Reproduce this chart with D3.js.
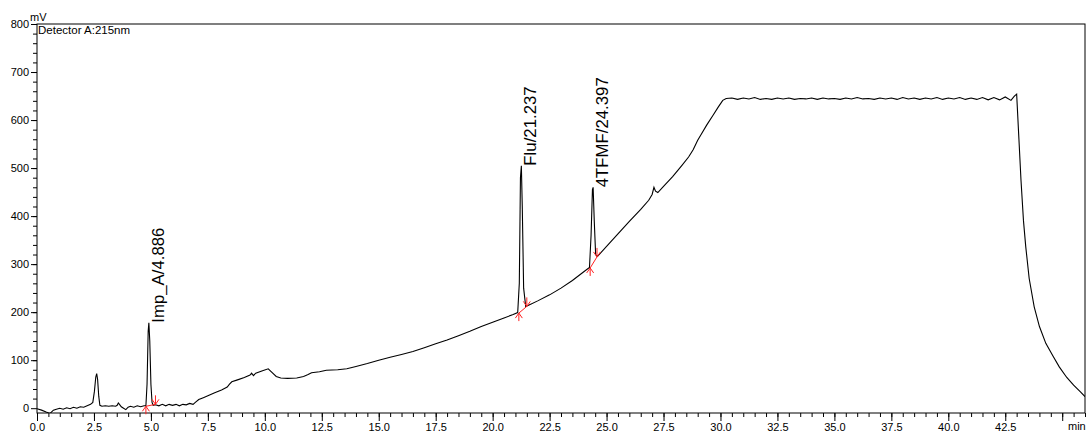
<!DOCTYPE html>
<html lang="en">
  <head>
    <meta charset="utf-8">
    <title>Chromatogram</title>
    <script src="https://d3js.org/d3.v7.min.js"></script>
    <style>
      body { margin: 0; background: #fff; }
      text { font-family: Arial, "Liberation Sans", sans-serif; }
    </style>
  </head>
  <body>
    <div id="chart"></div>
    <script>
      // retention time (min) and detector signal (mV)
      let times = [0, 0.2, 0.4, 0.57, 0.72, 0.85, 1.0, 1.15, 1.3, 1.45, 1.6, 1.75, 1.9, 2.05, 2.2, 2.35,
        2.45, 2.52, 2.58, 2.62, 2.66, 2.71, 2.76, 2.85,
        3.0, 3.15, 3.3, 3.45, 3.52, 3.57, 3.62, 3.7, 3.8, 3.9, 4.0, 4.1, 4.25, 4.4, 4.55, 4.7, 4.78,
        4.83, 4.88, 4.91, 4.95, 5.0, 5.05, 5.1, 5.2,
        5.35, 5.5, 5.65, 5.8, 5.95, 6.1, 6.25, 6.4, 6.55, 6.7, 6.85, 6.95, 7.1, 7.3, 7.5, 7.8, 8.1, 8.35,
        8.45, 8.55, 8.8, 9.1, 9.35, 9.42, 9.5, 9.6, 9.9, 10.15, 10.3, 10.5, 10.7, 11.0, 11.4, 11.7, 11.9,
        12.05, 12.4, 12.7, 13.2, 13.6, 14.0, 14.5, 15.0, 15.5, 16.0, 16.5, 17.0, 17.5, 18.0, 18.5, 19.0,
        19.5, 20.0, 20.5, 20.9, 21.1,
        21.17, 21.22, 21.26, 21.3, 21.36, 21.45, 21.6,
        22.0, 22.5, 23.0, 23.5, 24.0, 24.25,
        24.32, 24.38, 24.41, 24.46, 24.52, 24.6,
        25.0, 25.5, 26.0, 26.5, 26.85, 27.0, 27.08, 27.15, 27.25, 27.5, 27.9, 28.3, 28.6, 28.8, 29.0,
        29.15, 29.4, 29.66, 29.9, 30.1, 30.25,
        30.5, 30.75, 31.0, 31.25, 31.5, 31.75, 32.0, 32.25, 32.5, 32.75, 33.0, 33.25, 33.5, 33.75,
        34.0, 34.25, 34.5, 34.75, 35.0, 35.25, 35.5, 35.75, 36.0, 36.25, 36.5, 36.75, 37.0, 37.25,
        37.5, 37.75, 38.0, 38.25, 38.5, 38.75, 39.0, 39.25, 39.5, 39.75, 40.0, 40.25, 40.5, 40.75,
        41.0, 41.25, 41.5, 41.75, 42.0, 42.25, 42.5, 42.75, 42.9, 43.0,
        43.1, 43.19, 43.3, 43.4, 43.55, 43.77, 44.0, 44.28, 44.6, 44.87, 45.2, 45.5, 45.8, 46.0];

      let signal = [-1, -4, -8, -11, -4, -2, 0, -2, 1, -1, 2, 0, 3, 2, 5, 8,
        12, 35, 65, 72, 60, 25, 6, 4,
        5, 4, 5, 4, 6, 11, 8, 3, 0, -3, 2, 4, 2, 5, 3, 5, 5,
        50, 160, 178, 140, 50, 12, 6, 7,
        5, 8, 5, 8, 6, 8, 5, 8, 7, 10, 8, 12, 18, 22, 26, 32, 38, 44,
        50, 55, 59, 64, 69, 73, 68, 73, 78, 82, 75, 66, 63, 62, 63, 66, 70,
        74, 76, 79, 80, 82, 87, 93, 100, 106, 112, 118, 126, 134, 142, 151, 160,
        170, 179, 188, 195, 199,
        260, 480, 505, 420, 250, 212, 215,
        224, 236, 250, 266, 284, 293,
        360, 455, 460, 390, 320, 316,
        337, 363, 389, 414, 433, 445, 460, 452, 449, 462, 482, 505, 523, 538, 558,
        570, 590, 609, 627, 641, 645,
        646, 643, 646, 644, 647, 643, 645, 643, 646, 644, 646, 643, 645, 644,
        646, 643, 646, 644, 645, 643, 646, 644, 647, 644, 645, 643, 646, 644,
        646, 643, 647, 644, 646, 643, 646, 644, 647, 643, 646, 644, 647, 643,
        646, 643, 647, 642, 647, 642, 648, 641, 650, 654,
        560, 475, 390, 336, 270, 211, 170, 135, 108, 86, 64, 48, 34, 24];

      // identified peaks
      let peakNames = ["Imp_A/4.886", "Flu/21.237", "4TFMF/24.397"];
      let peakTimes = [4.91, 21.26, 24.41];
      let peakTops = [178, 505, 460];

      // integration start / end marks
      let startTimes = [4.78, 21.15, 24.28];
      let startVals = [4, 198, 292];
      let endTimes = [5.2, 21.5, 24.58];
      let endVals = [8, 212, 315];

      let yTicks = [0, 100, 200, 300, 400, 500, 600, 700, 800];
      let xTicks = [0, 2.5, 5, 7.5, 10, 12.5, 15, 17.5, 20, 22.5, 25, 27.5, 30, 32.5, 35, 37.5, 40, 42.5, 45];

      let w = 1089;
      let h = 432;
      let mLeft = 37, mRight = 1085, mTop = 24, mBottom = 413;

      let svg = d3.select("#chart")
                  .append("svg")
                  .attr("width", w)
                  .attr("height", h);

      let x = d3.scaleLinear().domain([0, 46]).range([mLeft, mRight]);
      let y = d3.scaleLinear().domain([-10, 800]).range([mBottom, mTop]);

      // minor ticks first
      svg.append("g")
         .attr("transform", "translate(0," + mBottom + ")")
         .call(d3.axisBottom(x).tickValues(d3.range(0, 46.01, 0.5)).tickSize(4).tickFormat(""))
         .call(g => g.select(".domain").remove());
      svg.append("g")
         .attr("transform", "translate(" + mLeft + ",0)")
         .call(d3.axisLeft(y).tickValues(d3.range(20, 800, 20)).tickSize(4).tickFormat(""))
         .call(g => g.select(".domain").remove());

      // major ticks + labels
      let xAxis = svg.append("g")
         .attr("transform", "translate(0," + mBottom + ")")
         .call(d3.axisBottom(x).tickValues(xTicks).tickSize(8).tickPadding(2)
               .tickFormat(d => d === 45 ? "" : d3.format(".1f")(d)));
      xAxis.select(".domain").remove();
      xAxis.selectAll("text").attr("font-size", "11px").attr("font-family", null);

      let yAxis = svg.append("g")
         .attr("transform", "translate(" + mLeft + ",0)")
         .call(d3.axisLeft(y).tickValues(yTicks).tickSize(6).tickPadding(2));
      yAxis.select(".domain").remove();
      yAxis.selectAll("text").attr("font-size", "11px").attr("font-family", null);

      svg.selectAll(".tick line").attr("stroke", "#000");

      // frame
      svg.append("rect")
         .attr("x", mLeft).attr("y", mTop)
         .attr("width", mRight - mLeft).attr("height", mBottom - mTop)
         .attr("fill", "none").attr("stroke", "#000").attr("stroke-width", 1);

      svg.append("text").attr("x", 30).attr("y", 21).attr("font-size", "11px").text("mV");
      svg.append("text").attr("x", 1068).attr("y", 430).attr("font-size", "11px").text("min");
      svg.append("text").attr("x", 38).attr("y", 34).attr("font-size", "11.5px").text("Detector A:215nm");

      svg.append("clipPath").attr("id", "plot")
         .append("rect").attr("x", mLeft).attr("y", mTop)
         .attr("width", mRight - mLeft).attr("height", mBottom - mTop);

      let line = d3.line()
                   .x((d, i) => x(times[i]))
                   .y(d => y(d));

      svg.append("path")
         .datum(signal)
         .attr("clip-path", "url(#plot)")
         .attr("d", line)
         .attr("fill", "none")
         .attr("stroke", "#000")
         .attr("stroke-width", 1.1);

      // red integration baselines and marks
      let red = "#ff2020";
      let marks = svg.append("g").attr("stroke", red).attr("fill", "none").attr("stroke-width", 1);
      startTimes.forEach(function(t, i) {
        let x0 = x(t), y0 = y(startVals[i]);
        let x1 = x(endTimes[i]), y1 = y(endVals[i]);
        marks.append("line").attr("x1", x0).attr("y1", y0).attr("x2", x1).attr("y2", y1);
        // start: upward arrow
        marks.append("path").attr("d", "M" + x0 + "," + y0 + "V" + (y0 + 8) +
              "M" + (x0 - 3.5) + "," + (y0 + 5) + "L" + x0 + "," + y0 + "L" + (x0 + 3.5) + "," + (y0 + 5));
        // end: downward arrow
        marks.append("path").attr("d", "M" + x1 + "," + y1 + "V" + (y1 - 9) +
              "M" + (x1 - 3.5) + "," + (y1 - 5) + "L" + x1 + "," + y1 + "L" + (x1 + 3.5) + "," + (y1 - 5));
      });

      // peak labels, rotated
      svg.selectAll("text.peak")
         .data(peakNames)
         .enter()
         .append("text")
         .attr("class", "peak")
         .attr("transform", (d, i) => "translate(" + (x(peakTimes[i]) + 15) + "," + y(peakTops[i]) + ") rotate(-90)")
         .attr("font-size", "16.8px")
         .text(d => d);
    </script>
  </body>
</html>
